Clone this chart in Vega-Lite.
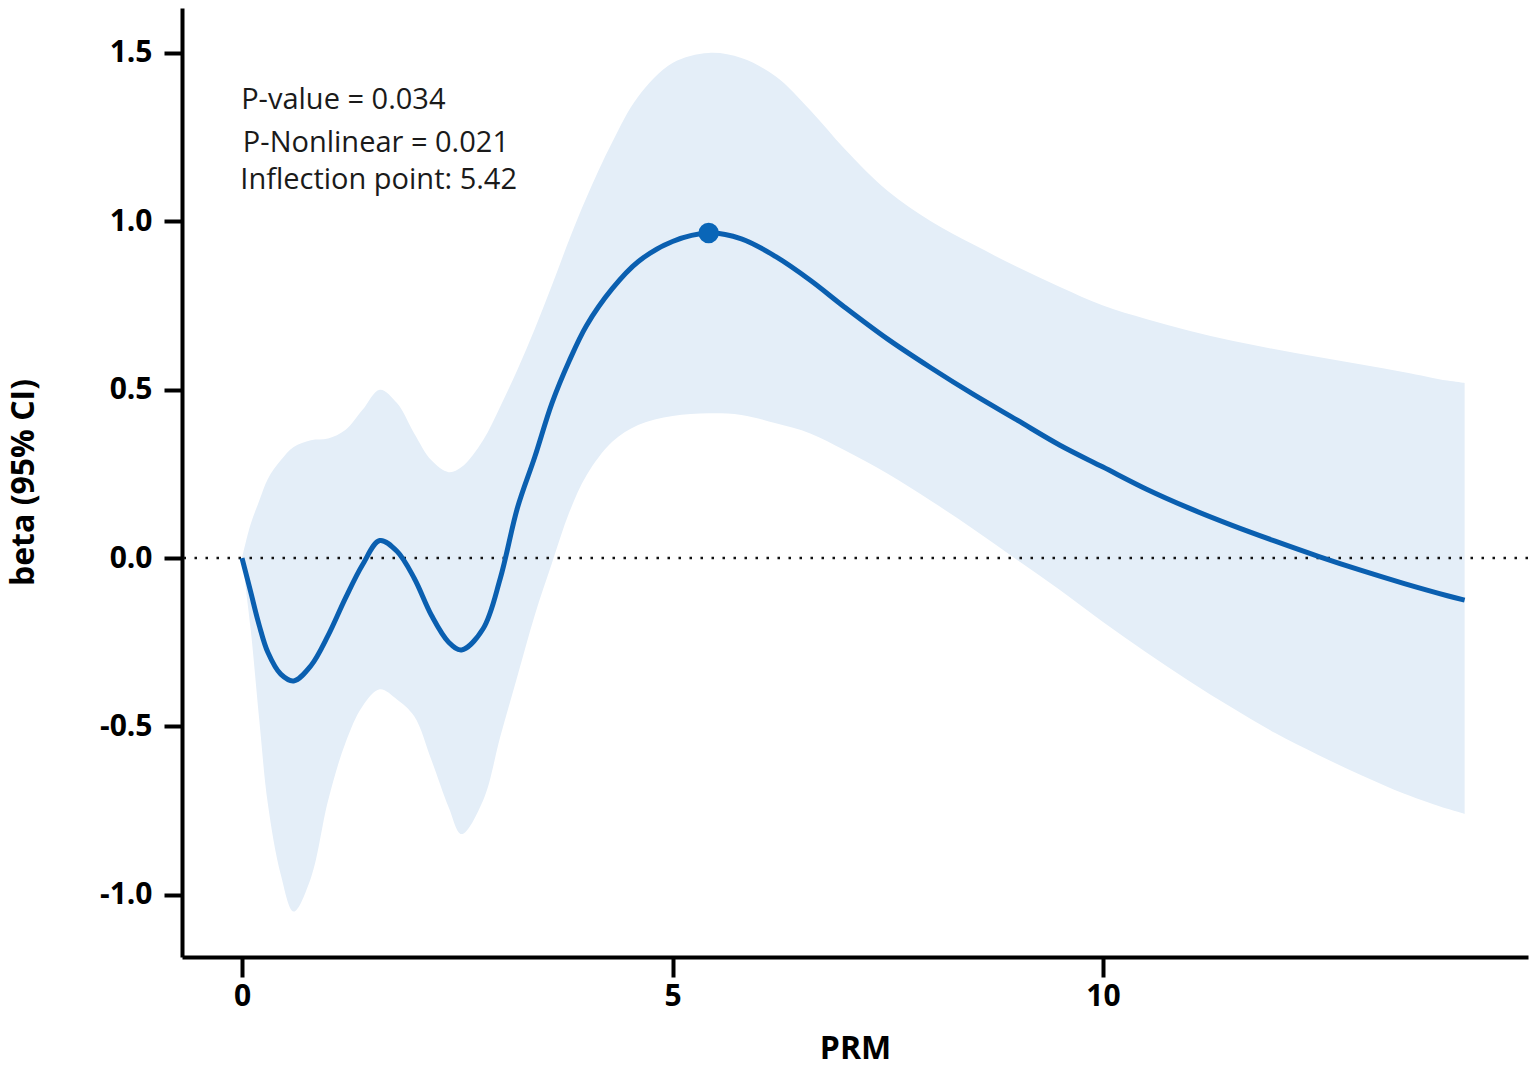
{
  "$schema": "https://vega.github.io/schema/vega-lite/v6.json",
  "description": "Restricted cubic spline of beta (95% CI) against PRM",
  "width": 1346,
  "height": 949,
  "autosize": {"type": "none"},
  "padding": {"left": 182, "top": 8, "right": 7, "bottom": 111},
  "background": "white",
  "config": {
    "view": {"stroke": null},
    "font": "Open Sans",
    "axis": {
      "grid": false,
      "domainColor": "black",
      "domainWidth": 4,
      "tickColor": "black",
      "tickWidth": 4,
      "labelFont": "Open Sans",
      "labelFontWeight": "bold",
      "labelFontSize": 30,
      "labelColor": "black",
      "titleFont": "Open Sans",
      "titleFontWeight": "bold",
      "titleFontSize": 32,
      "titleColor": "black"
    }
  },
  "datasets": {
    "curve": [
      {"prm": 0, "beta": 0, "lower": 0, "upper": 0},
      {"prm": 0.1, "beta": -0.1, "lower": -0.21, "upper": 0.1},
      {"prm": 0.2, "beta": -0.2, "lower": -0.48, "upper": 0.17},
      {"prm": 0.3, "beta": -0.28, "lower": -0.73, "upper": 0.235},
      {"prm": 0.45, "beta": -0.345, "lower": -0.94, "upper": 0.29},
      {"prm": 0.6, "beta": -0.365, "lower": -1.05, "upper": 0.33},
      {"prm": 0.8, "beta": -0.32, "lower": -0.95, "upper": 0.35},
      {"prm": 1.0, "beta": -0.23, "lower": -0.72, "upper": 0.355},
      {"prm": 1.2, "beta": -0.12, "lower": -0.55, "upper": 0.38},
      {"prm": 1.4, "beta": -0.02, "lower": -0.44, "upper": 0.44},
      {"prm": 1.6, "beta": 0.052, "lower": -0.39, "upper": 0.5},
      {"prm": 1.8, "beta": 0.02, "lower": -0.42, "upper": 0.46},
      {"prm": 2.0, "beta": -0.06, "lower": -0.47, "upper": 0.37},
      {"prm": 2.2, "beta": -0.17, "lower": -0.6, "upper": 0.29},
      {"prm": 2.4, "beta": -0.25, "lower": -0.74, "upper": 0.255},
      {"prm": 2.55, "beta": -0.273, "lower": -0.82, "upper": 0.27},
      {"prm": 2.8, "beta": -0.21, "lower": -0.72, "upper": 0.35},
      {"prm": 3.0, "beta": -0.06, "lower": -0.53, "upper": 0.45},
      {"prm": 3.2, "beta": 0.15, "lower": -0.35, "upper": 0.56},
      {"prm": 3.4, "beta": 0.3, "lower": -0.17, "upper": 0.68},
      {"prm": 3.6, "beta": 0.46, "lower": -0.015, "upper": 0.81},
      {"prm": 3.8, "beta": 0.585, "lower": 0.135, "upper": 0.945},
      {"prm": 4.0, "beta": 0.69, "lower": 0.245, "upper": 1.07},
      {"prm": 4.3, "beta": 0.8, "lower": 0.345, "upper": 1.235},
      {"prm": 4.6, "beta": 0.88, "lower": 0.395, "upper": 1.37},
      {"prm": 5.0, "beta": 0.94, "lower": 0.422, "upper": 1.47},
      {"prm": 5.42, "beta": 0.965, "lower": 0.43, "upper": 1.5},
      {"prm": 5.8, "beta": 0.948, "lower": 0.425, "upper": 1.485},
      {"prm": 6.2, "beta": 0.895, "lower": 0.4, "upper": 1.43},
      {"prm": 6.6, "beta": 0.825, "lower": 0.37, "upper": 1.33},
      {"prm": 7.0, "beta": 0.745, "lower": 0.32, "upper": 1.215},
      {"prm": 7.5, "beta": 0.65, "lower": 0.25, "upper": 1.09},
      {"prm": 8.0, "beta": 0.565, "lower": 0.17, "upper": 1.0},
      {"prm": 8.5, "beta": 0.485, "lower": 0.085, "upper": 0.93},
      {"prm": 9.0, "beta": 0.41, "lower": -0.005, "upper": 0.865},
      {"prm": 9.5, "beta": 0.335, "lower": -0.095, "upper": 0.805},
      {"prm": 10.0, "beta": 0.27, "lower": -0.19, "upper": 0.75},
      {"prm": 10.5, "beta": 0.205, "lower": -0.28, "upper": 0.71},
      {"prm": 11.0, "beta": 0.148, "lower": -0.365, "upper": 0.675},
      {"prm": 11.5, "beta": 0.097, "lower": -0.445, "upper": 0.645},
      {"prm": 12.0, "beta": 0.05, "lower": -0.52, "upper": 0.62},
      {"prm": 12.5, "beta": 0.005, "lower": -0.585, "upper": 0.597},
      {"prm": 13.0, "beta": -0.037, "lower": -0.645, "upper": 0.575},
      {"prm": 13.5, "beta": -0.076, "lower": -0.7, "upper": 0.552},
      {"prm": 14.0, "beta": -0.112, "lower": -0.745, "upper": 0.527},
      {"prm": 14.2, "beta": -0.125, "lower": -0.76, "upper": 0.52}
    ],
    "notes": [
      {"prm": -0.01, "beta": 1.359, "label": "P-value = 0.034"},
      {"prm": 0.01, "beta": 1.233, "label": "P-Nonlinear = 0.021"},
      {"prm": -0.02, "beta": 1.124, "label": "Inflection point: 5.42"}
    ]
  },
  "encoding": {
    "x": {
      "field": "prm",
      "type": "quantitative",
      "scale": {"domain": [-0.697, 14.936], "nice": false, "zero": false},
      "axis": {
        "title": "PRM",
        "values": [0, 5, 10],
        "tickSize": 20,
        "labelPadding": 4,
        "titleX": 673,
        "titleY": 91,
        "titleBaseline": "middle"
      }
    },
    "y": {
      "field": "beta",
      "type": "quantitative",
      "scale": {"domain": [-1.185, 1.6335], "nice": false, "zero": false},
      "axis": {
        "title": "beta (95% CI)",
        "values": [-1, -0.5, 0, 0.5, 1, 1.5],
        "labelExpr": "datum.value < 0 ? '-' + format(-datum.value, '.1f') : format(datum.value, '.1f')",
        "tickSize": 18,
        "labelPadding": 12,
        "titleX": -159,
        "titleY": 474,
        "titleBaseline": "middle"
      }
    }
  },
  "layer": [
    {
      "data": {"name": "curve"},
      "mark": {"type": "area", "interpolate": "catmull-rom", "color": "#e4eef8", "opacity": 1},
      "encoding": {
        "y": {"field": "lower", "type": "quantitative"},
        "y2": {"field": "upper"}
      }
    },
    {
      "data": {"values": [{"zero": 0}]},
      "mark": {"type": "rule", "color": "#111111", "strokeWidth": 2.5, "strokeDash": [2.5, 8.5]},
      "encoding": {
        "x": null,
        "y": {"field": "zero", "type": "quantitative"}
      }
    },
    {
      "data": {"name": "curve"},
      "mark": {"type": "line", "interpolate": "catmull-rom", "color": "#0a5fb0", "strokeWidth": 5}
    },
    {
      "data": {"name": "curve"},
      "transform": [{"filter": "datum.prm == 5.42"}],
      "mark": {"type": "point", "filled": true, "color": "#0a66b8", "size": 420, "opacity": 1}
    },
    {
      "data": {"name": "notes"},
      "mark": {"type": "text", "align": "left", "baseline": "middle", "font": "Open Sans", "fontSize": 29, "color": "#1a1a1a"},
      "encoding": {
        "text": {"field": "label"}
      }
    }
  ]
}
